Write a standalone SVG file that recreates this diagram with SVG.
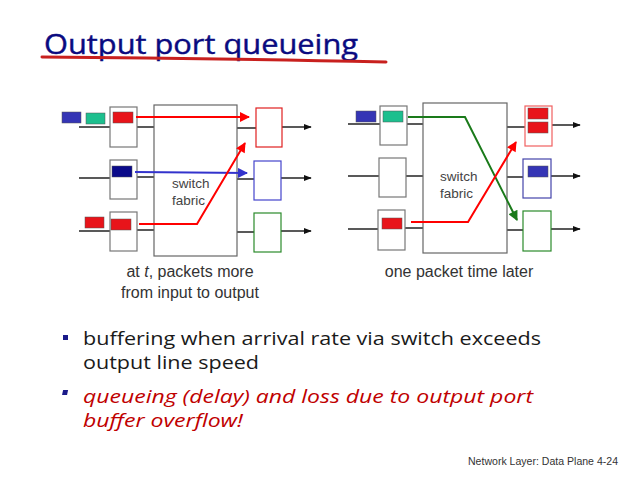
<svg xmlns="http://www.w3.org/2000/svg" width="640" height="480" viewBox="0 0 640 480">
<style>
.port{fill:#fff;stroke:#777;stroke-width:1.2}
.fab{fill:#fff;stroke:#666;stroke-width:1.2}
.ln{stroke:#222;stroke-width:1.5;fill:none}
.fl{font-family:"Liberation Sans",Arial,sans-serif;font-size:13.5px;fill:#444}
.cap{font-family:"Liberation Sans",Arial,sans-serif;font-size:16px;fill:#333;text-anchor:middle}
.body{font-family:"Open Sans","Liberation Sans",sans-serif;font-size:19px}
</style>
<defs>
<marker id="aBlk" viewBox="0 0 10 10" refX="9" refY="5" markerWidth="8" markerHeight="8" markerUnits="userSpaceOnUse" orient="auto"><path d="M0,1 L10,5 L0,9 z" fill="#111"/></marker>
<marker id="aRed" viewBox="0 0 10 10" refX="9" refY="5" markerWidth="12" markerHeight="10" markerUnits="userSpaceOnUse" orient="auto"><path d="M0,0 L10,5 L0,10 z" fill="#f00"/></marker>
<marker id="aBlu" viewBox="0 0 10 10" refX="9" refY="5" markerWidth="12" markerHeight="10" markerUnits="userSpaceOnUse" orient="auto"><path d="M0,0 L10,5 L0,10 z" fill="#3333cc"/></marker>
<marker id="aGrn" viewBox="0 0 10 10" refX="9" refY="5" markerWidth="12" markerHeight="10" markerUnits="userSpaceOnUse" orient="auto"><path d="M0,0 L10,5 L0,10 z" fill="#1a7a1a"/></marker>
</defs>
<rect width="640" height="480" fill="#fff"/>
<g id="title">
<text x="44" y="54" font-family="'Open Sans','Liberation Sans',sans-serif" font-size="27" fill="#0a0a80" stroke="#0a0a80" stroke-width="0.4" textLength="314" lengthAdjust="spacingAndGlyphs">Output port queueing</text>
<path d="M42,57 Q200,58 386,62" stroke="#c8201e" stroke-width="3" fill="none" stroke-linecap="round"/>
</g>

<!-- Left diagram -->
<g id="left-lines" class="connectors">
<line class="ln" x1="79" y1="127" x2="110" y2="127"/>
<line class="ln" x1="137" y1="127" x2="154" y2="127"/>
<line class="ln" x1="79" y1="178" x2="110" y2="178"/>
<line class="ln" x1="137" y1="177" x2="154" y2="177"/>
<line class="ln" x1="79" y1="231" x2="110" y2="231"/>
<line class="ln" x1="137" y1="230" x2="154" y2="230"/>
<line class="ln" x1="237" y1="128" x2="256" y2="128"/>
<line class="ln" x1="237" y1="179" x2="254" y2="179"/>
<line class="ln" x1="237" y1="232" x2="254" y2="232"/>
<line class="ln" x1="282" y1="127" x2="311" y2="127" marker-end="url(#aBlk)"/>
<line class="ln" x1="281" y1="178" x2="311" y2="178" marker-end="url(#aBlk)"/>
<line class="ln" x1="281" y1="231" x2="311" y2="231" marker-end="url(#aBlk)"/>
</g>
<g id="left-fabric"><rect class="fab" x="154" y="105" width="83" height="151"/>
<text class="fl" x="172" y="188">switch</text><text class="fl" x="172" y="205">fabric</text></g>
<g id="left-in1"><rect class="port" x="110" y="107" width="27" height="40"/><rect x="113" y="112" width="20" height="11" fill="#e8141a" stroke="#555" stroke-width="0.5"/></g>
<g id="left-in2"><rect class="port" x="110" y="160" width="27" height="39"/><rect x="112" y="166" width="20" height="11" fill="#0a0a8a" stroke="#555" stroke-width="0.5"/></g>
<g id="left-in3"><rect class="port" x="110" y="212" width="27" height="39"/><rect x="111" y="219" width="20" height="11" fill="#e8141a" stroke="#555" stroke-width="0.5"/></g>
<g id="left-queue"><rect x="62" y="112" width="19" height="11" fill="#3535b5" stroke="#555" stroke-width="0.5"/><rect x="86" y="113" width="19" height="11" fill="#1dbf8e" stroke="#555" stroke-width="0.5"/><rect x="85" y="217" width="19" height="11" fill="#e8141a" stroke="#555" stroke-width="0.5"/></g>
<g id="left-out1"><rect x="256" y="108" width="26" height="39" fill="#fff" stroke="#e02020" stroke-width="1.2"/></g>
<g id="left-out2"><rect x="254" y="161" width="27" height="39" fill="#fff" stroke="#4444cc" stroke-width="1.2"/></g>
<g id="left-out3"><rect x="254" y="213" width="27" height="39" fill="#fff" stroke="#2a8a2a" stroke-width="1.2"/></g>
<g id="left-arrows" class="connectors">
<line x1="136" y1="117" x2="249" y2="117" stroke="#f00" stroke-width="2" marker-end="url(#aRed)"/>
<line x1="135" y1="172" x2="247" y2="173" stroke="#3333cc" stroke-width="2" marker-end="url(#aBlu)"/>
<polyline points="139,224 197,224 245,143" fill="none" stroke="#f00" stroke-width="2" marker-end="url(#aRed)"/>
</g>
<text class="cap" x="190" y="277">at <tspan font-style="italic">t</tspan>, packets more</text>
<text class="cap" x="190" y="298">from input to output</text>

<!-- Right diagram -->
<g id="right-lines" class="connectors">
<line class="ln" x1="348" y1="124" x2="380" y2="124"/>
<line class="ln" x1="407" y1="124" x2="423" y2="124"/>
<line class="ln" x1="348" y1="176" x2="379" y2="176"/>
<line class="ln" x1="406" y1="176" x2="423" y2="176"/>
<line class="ln" x1="348" y1="229" x2="378" y2="229"/>
<line class="ln" x1="405" y1="228" x2="423" y2="228"/>
<line class="ln" x1="507" y1="127" x2="525" y2="127"/>
<line class="ln" x1="507" y1="177" x2="523" y2="177"/>
<line class="ln" x1="507" y1="230" x2="523" y2="230"/>
<line class="ln" x1="552" y1="125" x2="580" y2="125" marker-end="url(#aBlk)"/>
<line class="ln" x1="551" y1="176" x2="580" y2="176" marker-end="url(#aBlk)"/>
<line class="ln" x1="551" y1="229" x2="580" y2="229" marker-end="url(#aBlk)"/>
</g>
<g id="right-fabric"><rect class="fab" x="423" y="103" width="84" height="150"/>
<text class="fl" x="440" y="181">switch</text><text class="fl" x="440" y="198">fabric</text></g>
<g id="right-in1"><rect class="port" x="380" y="106" width="27" height="39"/><rect x="383" y="111" width="20" height="11" fill="#1dbf8e" stroke="#555" stroke-width="0.5"/></g>
<g id="right-in2"><rect class="port" x="379" y="158" width="27" height="39"/></g>
<g id="right-in3"><rect class="port" x="378" y="210" width="27" height="40"/><rect x="382" y="218" width="20" height="11" fill="#e8141a" stroke="#555" stroke-width="0.5"/></g>
<g id="right-queue"><rect x="356" y="111" width="20" height="11" fill="#3535b5" stroke="#555" stroke-width="0.5"/></g>
<g id="right-out1"><rect x="525" y="106" width="27" height="40" fill="#fff" stroke="#f06060" stroke-width="1.2"/><rect x="528" y="108" width="20" height="11" fill="#e8141a" stroke="#555" stroke-width="0.5"/><rect x="528" y="122" width="20" height="11" fill="#e8141a" stroke="#555" stroke-width="0.5"/></g>
<g id="right-out2"><rect x="523" y="159" width="28" height="39" fill="#fff" stroke="#4444aa" stroke-width="1.2"/><rect x="528" y="166" width="20" height="11" fill="#3535b5" stroke="#555" stroke-width="0.5"/></g>
<g id="right-out3"><rect x="523" y="211" width="28" height="40" fill="#fff" stroke="#2a8a2a" stroke-width="1.2"/></g>
<g id="right-arrows" class="connectors">
<polyline points="408,117 465,117 517,220" fill="none" stroke="#1a7a1a" stroke-width="2" marker-end="url(#aGrn)"/>
<polyline points="411,222 468,222 516,142" fill="none" stroke="#f00" stroke-width="2" marker-end="url(#aRed)"/>
</g>
<text class="cap" x="459" y="277">one packet time later</text>

<!-- Bullets -->
<g id="bullets">
<rect x="63" y="335" width="5" height="5" fill="#1a1a8a"/>
<text class="body" x="83" y="345" fill="#1a1a1a" textLength="458" lengthAdjust="spacingAndGlyphs">buffering when arrival rate via switch exceeds</text>
<text class="body" x="83" y="369" fill="#1a1a1a" textLength="176" lengthAdjust="spacingAndGlyphs">output line speed</text>
<rect x="63" y="390" width="5" height="5" fill="#1a1a8a" transform="skewX(-12) translate(83,0)"/>
<text class="body" x="83" y="403" fill="#c00000" font-style="italic" textLength="450" lengthAdjust="spacingAndGlyphs">queueing (delay) and loss due to output port</text>
<text class="body" x="83" y="427" fill="#c00000" font-style="italic" textLength="160" lengthAdjust="spacingAndGlyphs">buffer overflow!</text>
</g>
<text x="468" y="465" font-family="'Liberation Sans',Arial,sans-serif" font-size="10.5" fill="#333" textLength="150" lengthAdjust="spacingAndGlyphs">Network Layer: Data Plane  4-24</text>
</svg>
